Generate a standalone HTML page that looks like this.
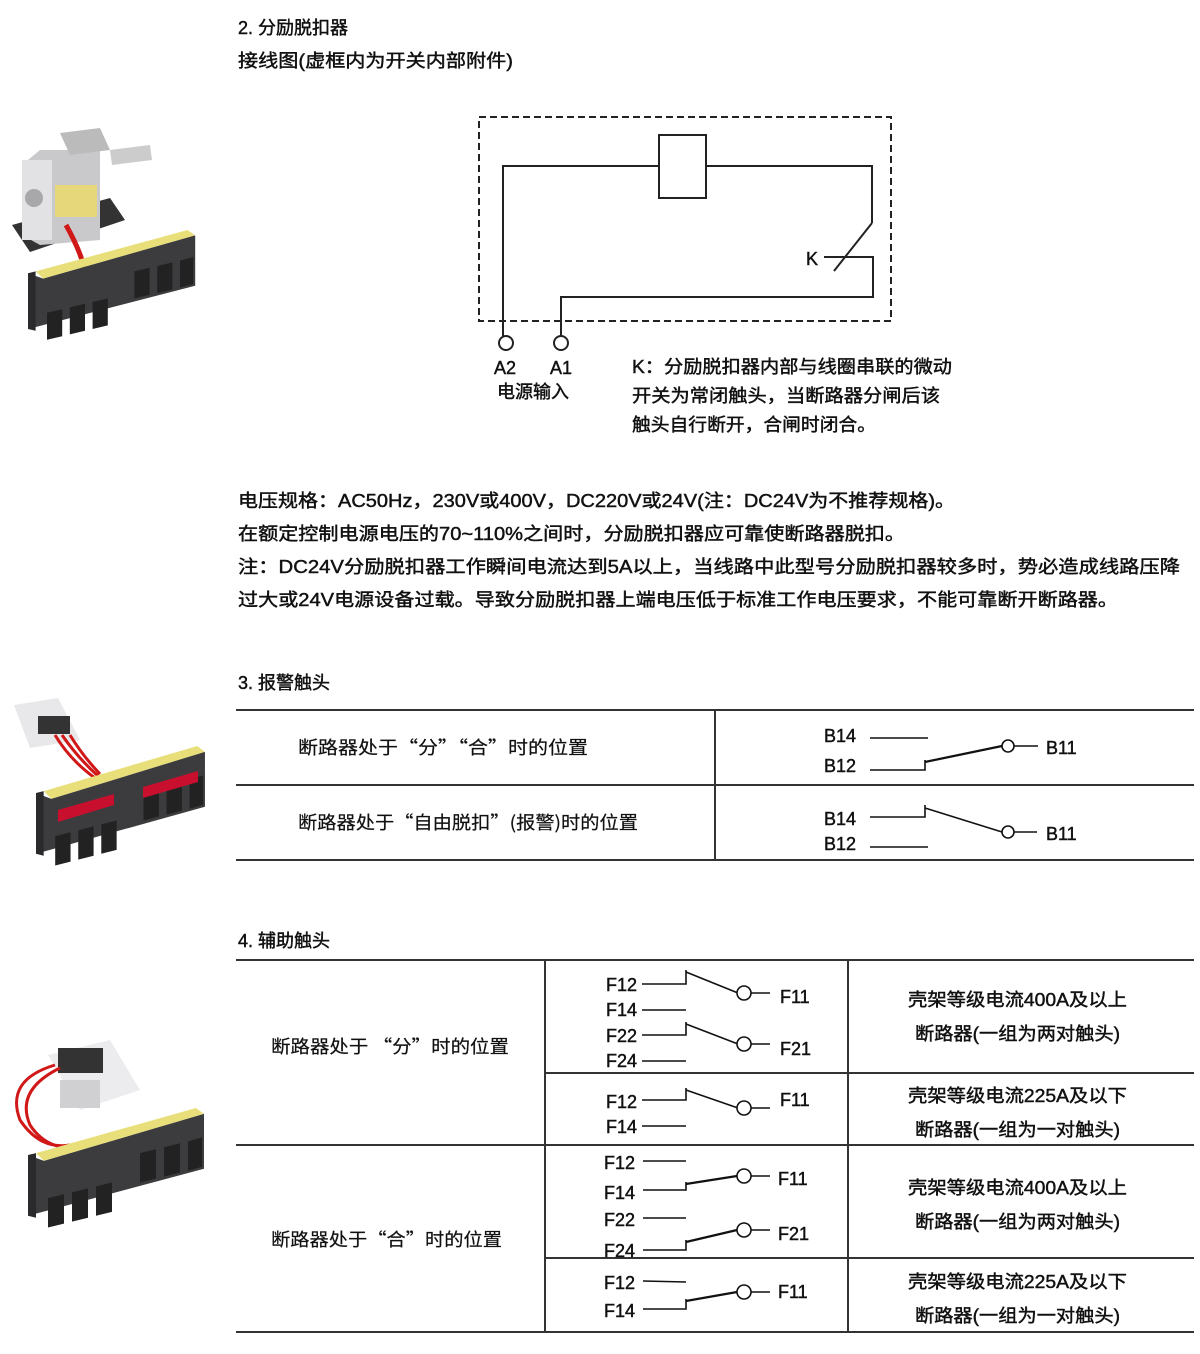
<!DOCTYPE html>
<html><head><meta charset="utf-8"><style>
html,body{margin:0;padding:0;background:#fff;}
svg{display:block;}
text{font-family:"Liberation Sans","Noto Sans CJK SC",sans-serif;fill:#111;stroke:#111;stroke-width:0.45;}
text.cjk{font-family:"Noto Sans CJK SC",sans-serif;stroke-width:0.2;}
</style></head><body>
<svg width="1200" height="1354" viewBox="0 0 1200 1354" xmlns="http://www.w3.org/2000/svg">
<defs>
<g id="blk">
  <polygon points="8,46 168,0 176,6 16,54" fill="#e9df7a"/>
  <polygon points="0,48 16,54 176,6 176,62 0,110" fill="#3c3c3f"/>
  <polygon points="0,48 8,46 8,112 0,110" fill="#2a2a2c"/>
  <polygon points="20,92 36,88 36,118 20,122" fill="#222"/>
  <polygon points="44,86 60,82 60,112 44,116" fill="#222"/>
  <polygon points="68,80 84,76 84,106 68,110" fill="#222"/>
  <polygon points="112,46 128,42 128,72 112,76" fill="#222"/>
  <polygon points="136,40 152,36 152,66 136,70" fill="#222"/>
  <polygon points="160,34 174,30 174,60 160,64" fill="#222"/>
</g>
</defs>

<!-- photo 1 -->
<g>
  <polygon points="12,225 110,198 125,220 30,252" fill="#333"/>
  <polygon points="22,165 40,150 100,150 100,240 40,245 22,235" fill="#c9c9cc"/>
  <rect x="22" y="160" width="30" height="80" fill="#e2e2e4"/>
  <circle cx="34" cy="198" r="9" fill="#a8a8ab"/>
  <rect x="55" y="185" width="42" height="32" fill="#e6d77a"/>
  <polygon points="60,133 100,128 110,150 70,155" fill="#bbb"/>
  <polygon points="110,150 150,145 152,160 112,165" fill="#ccc"/>
  <path d="M66,225 Q80,250 85,270" stroke="#d01818" stroke-width="5" fill="none"/>
  <g transform="translate(28,230) scale(0.95,0.9)"><use href="#blk"/></g>
</g>
<!-- photo 2 -->
<g>
  <polygon points="14,705 58,698 80,740 30,748" fill="#e8e8ea"/>
  <rect x="38" y="716" width="32" height="18" fill="#333"/>
  <path d="M55,735 Q70,760 95,778 M62,735 Q78,758 98,776 M70,735 Q82,755 100,774" stroke="#d01818" stroke-width="3" fill="none"/>
  <g transform="translate(36,746) scale(0.96,0.98)"><use href="#blk"/></g>
  <polygon points="58,810 114,794 114,805 58,822" fill="#c8102e"/>
  <polygon points="143,787 198,771 198,782 143,798" fill="#c8102e"/>
</g>
<!-- photo 3 -->
<g>
  <polygon points="48,1055 110,1040 140,1090 80,1110" fill="#ececee"/>
  <rect x="58" y="1048" width="45" height="25" fill="#333"/>
  <rect x="60" y="1080" width="40" height="28" fill="#d0d0d2"/>
  <path d="M55,1065 Q5,1080 20,1120 Q40,1150 70,1145 M60,1068 Q15,1090 30,1125 Q45,1148 72,1148" stroke="#d01818" stroke-width="3" fill="none"/>
  <g transform="translate(28,1108) scale(1.0,0.98)"><use href="#blk"/></g>
</g>

<!-- Section 2 -->
<text x="238" y="34" font-size="18">2. 分励脱扣器</text>
<text x="238" y="67" font-size="18" textLength="275" lengthAdjust="spacingAndGlyphs">接线图(虚框内为开关内部附件)</text>

<g stroke="#222" stroke-width="2" fill="none">
  <rect x="479" y="117" width="412" height="204" stroke-dasharray="7,4"/>
  <rect x="659" y="135" width="47" height="63"/>
  <polyline points="659,166 503,166 503,336"/>
  <polyline points="706,166 872,166 872,223"/>
  <line x1="872" y1="223" x2="834" y2="271"/>
  <polyline points="824,257 873,257 873,297 561,297 561,336"/>
  <circle cx="506" cy="343" r="7" fill="#fff"/>
  <circle cx="561" cy="343" r="7" fill="#fff"/>
</g>
<text x="806" y="265" font-size="18">K</text>
<text x="494" y="374" font-size="18">A2</text>
<text x="550" y="374" font-size="18">A1</text>
<text x="497" y="398" font-size="18">电源输入</text>
<text x="632" y="373" font-size="18" textLength="320" lengthAdjust="spacingAndGlyphs">K：分励脱扣器内部与线圈串联的微动</text>
<text x="632" y="402" font-size="18" textLength="308" lengthAdjust="spacingAndGlyphs">开关为常闭触头，当断路器分闸后该</text>
<text x="632" y="431" font-size="18" textLength="244" lengthAdjust="spacingAndGlyphs">触头自行断开，合闸时闭合。</text>

<text x="238" y="507" font-size="18" textLength="717" lengthAdjust="spacingAndGlyphs">电压规格：AC50Hz，230V或400V，DC220V或24V(注：DC24V为不推荐规格)。</text>
<text x="238" y="540" font-size="18" textLength="667" lengthAdjust="spacingAndGlyphs">在额定控制电源电压的70~110%之间时，分励脱扣器应可靠使断路器脱扣。</text>
<text x="238" y="573" font-size="18" textLength="942" lengthAdjust="spacingAndGlyphs">注：DC24V分励脱扣器工作瞬间电流达到5A以上，当线路中此型号分励脱扣器较多时，势必造成线路压降</text>
<text x="238" y="606" font-size="18" textLength="880" lengthAdjust="spacingAndGlyphs">过大或24V电源设备过载。导致分励脱扣器上端电压低于标准工作电压要求，不能可靠断开断路器。</text>

<!-- Section 3 -->
<text x="238" y="689" font-size="18">3. 报警触头</text>
<g stroke="#333" stroke-width="2">
  <line x1="236" y1="710" x2="1194" y2="710"/>
  <line x1="236" y1="785" x2="1194" y2="785"/>
  <line x1="236" y1="860" x2="1194" y2="860"/>
  <line x1="715" y1="710" x2="715" y2="860"/>
</g>
<text class="cjk" x="298" y="754" font-size="18" textLength="290" lengthAdjust="spacingAndGlyphs">断路器处于“分”“合”时的位置</text>
<text class="cjk" x="298" y="829" font-size="18" textLength="340" lengthAdjust="spacingAndGlyphs">断路器处于“自由脱扣”(报警)时的位置</text>
<g stroke="#111" stroke-width="1.6" fill="none">
  <line x1="870" y1="738" x2="928" y2="738"/>
  <polyline points="870,770 925,770 925,760"/>
  <line x1="925" y1="762" x2="1002" y2="746" stroke-width="2.2"/>
  <circle cx="1008" cy="746" r="6" fill="#fff"/>
  <line x1="1014" y1="746" x2="1038" y2="746"/>
  <polyline points="870,817 925,817 925,805"/>
  <line x1="925" y1="808" x2="1002" y2="832"/>
  <circle cx="1008" cy="832" r="6" fill="#fff"/>
  <line x1="1014" y1="832" x2="1037" y2="832"/>
  <line x1="870" y1="847" x2="928" y2="847"/>
</g>
<text x="824" y="742" font-size="18">B14</text>
<text x="824" y="772" font-size="18">B12</text>
<text x="1046" y="754" font-size="18">B11</text>
<text x="824" y="825" font-size="18">B14</text>
<text x="824" y="850" font-size="18">B12</text>
<text x="1046" y="840" font-size="18">B11</text>

<!-- Section 4 -->
<text x="238" y="947" font-size="18">4. 辅助触头</text>
<g stroke="#333" stroke-width="2">
  <line x1="236" y1="960" x2="1194" y2="960"/>
  <line x1="545" y1="1073" x2="1194" y2="1073"/>
  <line x1="236" y1="1145" x2="1194" y2="1145"/>
  <line x1="545" y1="1258" x2="1194" y2="1258"/>
  <line x1="236" y1="1332" x2="1194" y2="1332"/>
  <line x1="545" y1="960" x2="545" y2="1332"/>
  <line x1="848" y1="960" x2="848" y2="1332"/>
</g>
<text class="cjk" x="271" y="1053" font-size="18" textLength="238" lengthAdjust="spacingAndGlyphs">断路器处于 “分”时的位置</text>
<text class="cjk" x="271" y="1246" font-size="18" textLength="231" lengthAdjust="spacingAndGlyphs">断路器处于“合”时的位置</text>

<g stroke="#111" stroke-width="1.6" fill="none">
  <polyline points="642,984 686,984 686,970"/>
  <line x1="686" y1="972" x2="738" y2="993"/>
  <circle cx="744" cy="993" r="7" fill="#fff"/><line x1="751" y1="993" x2="770" y2="993"/>
  <line x1="642" y1="1010" x2="686" y2="1010"/>
  <polyline points="642,1035 686,1035 686,1022"/>
  <line x1="686" y1="1024" x2="738" y2="1044"/>
  <circle cx="744" cy="1044" r="7" fill="#fff"/><line x1="751" y1="1044" x2="770" y2="1044"/>
  <line x1="642" y1="1061" x2="686" y2="1061"/>

  <polyline points="642,1100 686,1100 686,1088"/>
  <line x1="686" y1="1090" x2="738" y2="1108"/>
  <circle cx="744" cy="1108" r="7" fill="#fff"/><line x1="751" y1="1108" x2="770" y2="1108"/>
  <line x1="642" y1="1126" x2="686" y2="1126"/>

  <line x1="643" y1="1161" x2="686" y2="1161"/>
  <polyline points="643,1190 686,1190 686,1182"/>
  <line x1="686" y1="1184" x2="737" y2="1176" stroke-width="2.2"/>
  <circle cx="744" cy="1176" r="7" fill="#fff"/><line x1="751" y1="1176" x2="770" y2="1176"/>
  <line x1="643" y1="1218" x2="686" y2="1218"/>
  <polyline points="643,1250 686,1250 686,1240"/>
  <line x1="686" y1="1242" x2="737" y2="1230" stroke-width="2.2"/>
  <circle cx="744" cy="1230" r="7" fill="#fff"/><line x1="751" y1="1230" x2="770" y2="1230"/>

  <line x1="643" y1="1281" x2="686" y2="1282"/>
  <polyline points="643,1309 686,1309 686,1299"/>
  <line x1="686" y1="1301" x2="737" y2="1292" stroke-width="2.2"/>
  <circle cx="744" cy="1292" r="7" fill="#fff"/><line x1="751" y1="1292" x2="770" y2="1292"/>
</g>
<g font-size="18">
<text x="606" y="991">F12</text><text x="606" y="1016">F14</text>
<text x="606" y="1042">F22</text><text x="606" y="1067">F24</text>
<text x="780" y="1003">F11</text><text x="780" y="1055">F21</text>
<text x="606" y="1108">F12</text><text x="606" y="1133">F14</text>
<text x="780" y="1106">F11</text>
<text x="604" y="1169">F12</text><text x="604" y="1199">F14</text>
<text x="604" y="1226">F22</text><text x="604" y="1257">F24</text>
<text x="778" y="1185">F11</text><text x="778" y="1240">F21</text>
<text x="604" y="1289">F12</text><text x="604" y="1317">F14</text>
<text x="778" y="1298">F11</text>
</g>
<g font-size="18">
<text x="908" y="1006" textLength="219" lengthAdjust="spacingAndGlyphs">壳架等级电流400A及以上</text>
<text x="915" y="1040" textLength="205" lengthAdjust="spacingAndGlyphs">断路器(一组为两对触头)</text>
<text x="908" y="1102" textLength="219" lengthAdjust="spacingAndGlyphs">壳架等级电流225A及以下</text>
<text x="915" y="1136" textLength="205" lengthAdjust="spacingAndGlyphs">断路器(一组为一对触头)</text>
<text x="908" y="1194" textLength="219" lengthAdjust="spacingAndGlyphs">壳架等级电流400A及以上</text>
<text x="915" y="1228" textLength="205" lengthAdjust="spacingAndGlyphs">断路器(一组为两对触头)</text>
<text x="908" y="1288" textLength="219" lengthAdjust="spacingAndGlyphs">壳架等级电流225A及以下</text>
<text x="915" y="1322" textLength="205" lengthAdjust="spacingAndGlyphs">断路器(一组为一对触头)</text>
</g>
</svg>
</body></html>
